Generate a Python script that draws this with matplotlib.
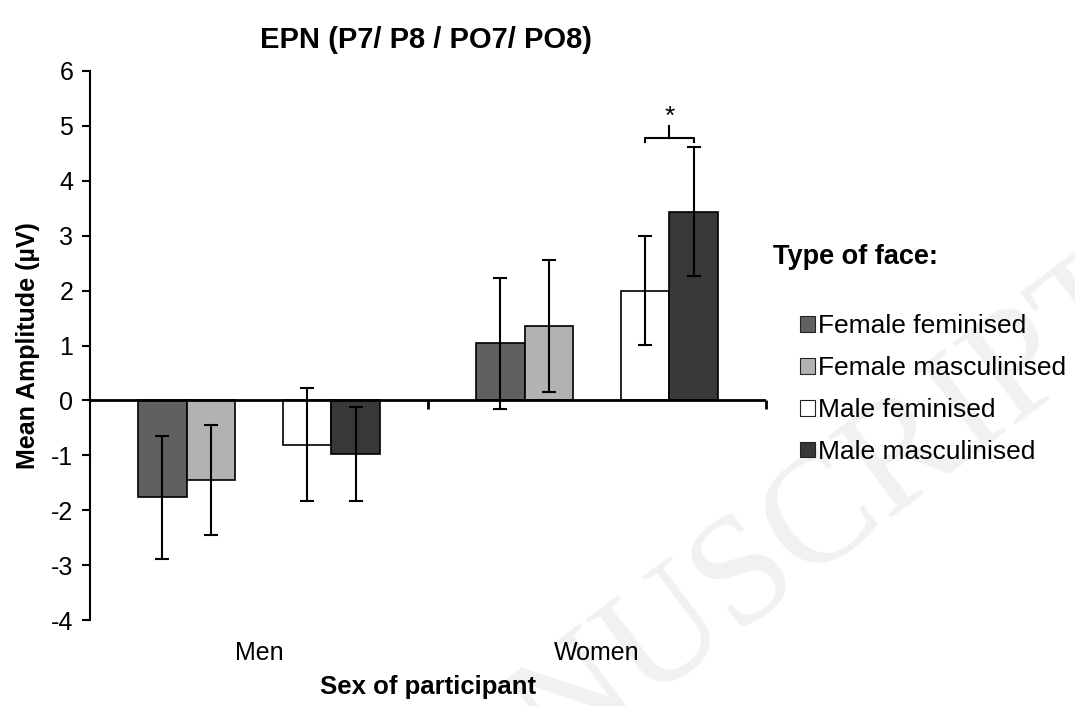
import matplotlib
matplotlib.use("Agg")
import matplotlib.pyplot as plt
from matplotlib.patches import Patch
import numpy as np

plt.rcParams['font.family'] = ['Liberation Sans', 'DejaVu Sans']
plt.rcParams['axes.unicode_minus'] = False

# data
groups = ["Men", "Women"]
series = ["Female feminised", "Female masculinised", "Male feminised", "Male masculinised"]
colors = ["#606060", "#b2b2b2", "#ffffff", "#383838"]
means = np.array([
    [-1.76, -1.45, -0.81, -0.98],   # Men
    [1.04, 1.35, 2.00, 3.44],       # Women
])
errors = np.array([
    [1.12, 1.01, 1.03, 0.86],
    [1.19, 1.20, 0.99, 1.18],
])

fig = plt.figure(figsize=(10.75, 7.06), dpi=100)

# faint watermark from the source page, behind everything
fig.text(1090/1075, 1 - 228/706, "MANUSCRIPT", ha='right', va='top', rotation=37,
         rotation_mode='anchor', fontsize=112, family='Liberation Serif',
         color='#f1f1f1', zorder=-5)

ax = fig.add_axes([90/1075, 1 - 620/706, (766-90)/1075, (620-71)/706])
ax.patch.set_visible(False)

x = np.arange(len(groups))
slot = 1 / 7
offsets = [-2 * slot, -1 * slot, 1 * slot, 2 * slot]

for i, name in enumerate(series):
    ax.bar(x + offsets[i], means[:, i], width=slot, color=colors[i],
           edgecolor='black', linewidth=1.2, label=name, zorder=2)
    ax.errorbar(x + offsets[i], means[:, i], yerr=errors[:, i], fmt='none',
                ecolor='black', elinewidth=1.5, capsize=5, capthick=1.5, zorder=3)

# zero line and category boundary ticks
ax.axhline(0, color='black', linewidth=2, zorder=4)
ax.vlines([0.5, 1.5], -0.15, 0, colors='black', linewidth=2, clip_on=False, zorder=4)

ax.set_xlim(-0.5, 1.5)
ax.set_ylim(-4, 6)
ax.set_yticks(np.arange(-4, 7, 1))
ax.set_xticks(x)
ax.set_xticklabels(groups)
ax.tick_params(axis='x', length=0, pad=15, labelsize=18)
ax.tick_params(axis='y', direction='out', length=6, width=1.5, labelsize=18, pad=6)
for s in ['top', 'right', 'bottom']:
    ax.spines[s].set_visible(False)
ax.spines['left'].set_linewidth(1.5)

ax.set_ylabel("Mean Amplitude (µV)", fontsize=18, fontweight='bold', labelpad=8)
ax.set_xlabel("Sex of participant", fontsize=18.5, fontweight='bold', labelpad=7)

# significance bracket between the two male-face bars for women
xa, xb = x[1] + offsets[2], x[1] + offsets[3]
yb = 4.78
ax.plot([xa, xa, xb, xb], [yb - 0.07, yb, yb, yb - 0.07], color='black', lw=1.5, zorder=4)
ax.plot([(xa + xb) / 2] * 2, [yb, yb + 0.22], color='black', lw=1.5, zorder=4)
ax.text((xa + xb) / 2, yb + 0.17, "*", ha='center', va='bottom', fontsize=19)

fig.text(426/1075, 1 - 40/706, "EPN (P7/ P8 / PO7/ PO8)", ha='center', va='center',
         fontsize=21, fontweight='bold')

fig.text(773/1075, 1 - 257/706, "Type of face:", ha='left', va='center',
         fontsize=19.5, fontweight='bold')
handles = [Patch(facecolor=c, edgecolor='#222222', linewidth=0.8) for c in colors]
fig.legend(handles, series, loc='upper left', bbox_to_anchor=(800/1075, 1 - 314/706),
           frameon=False, fontsize=19, handlelength=0.55, handleheight=0.55,
           handletextpad=0.15, labelspacing=0.68, borderpad=0, borderaxespad=0)

fig.savefig("out.png", dpi=100)
